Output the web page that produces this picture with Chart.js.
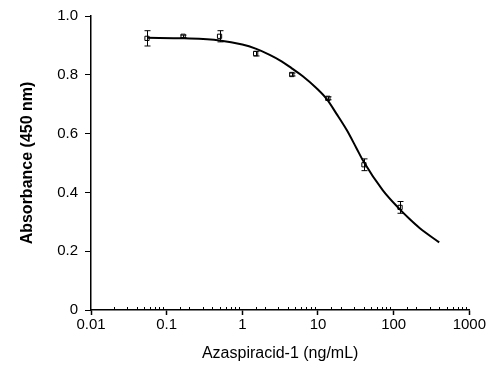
<!DOCTYPE html>
<html>
<head>
<meta charset="utf-8">
<script src="https://cdn.jsdelivr.net/npm/chart.js@4"></script>
<style>
  html, body { margin: 0; padding: 0; background: #fff; }
  #wrap { width: 487px; height: 366px; }
</style>
</head>
<body>
<div id="wrap"><canvas id="myChart" width="487" height="366"></canvas></div>
<script>
// measured points (concentration in ng/mL, absorbance, error)
var concentrations = [0.055, 0.165, 0.5, 1.5, 4.5, 13.5, 40.5, 121.5];
var absorbance = [0.924, 0.931, 0.931, 0.872, 0.801, 0.72, 0.494, 0.349];
var errors = [0.026, 0.004, 0.019, 0.008, 0.005, 0.005, 0.02, 0.02];

// fitted curve
var curveX = [0.055, 0.17, 0.5, 1, 1.5, 2.3, 3.3, 4.5, 6.3, 9.5, 13, 17.5, 24, 32, 40, 72, 120, 160, 220, 400];
var curveY = [0.926, 0.924, 0.917, 0.903, 0.889, 0.868, 0.846, 0.822, 0.795, 0.755, 0.718, 0.668, 0.612, 0.552, 0.505, 0.407, 0.343, 0.311, 0.279, 0.23];

var xTickLabels = [0.01, 0.1, 1, 10, 100, 1000];
var yTickLabels = [0, 0.2, 0.4, 0.6, 0.8, 1.0];

var fontFamily = '"Liberation Sans", Arial, sans-serif';

function isDecade(v) {
    for (var i = 0; i < xTickLabels.length; i++) {
        if (Math.abs(v - xTickLabels[i]) < xTickLabels[i] * 1e-6) return true;
    }
    return false;
}

// error bars drawn through the chart scales
var errorBars = {
    id: 'errorBars',
    afterDatasetsDraw: function(chart) {
        var ctx = chart.ctx;
        var xs = chart.scales.x, ys = chart.scales.y;
        ctx.save();
        ctx.strokeStyle = '#000';
        ctx.lineWidth = 1;
        for (var i = 0; i < concentrations.length; i++) {
            var px = Math.round(xs.getPixelForValue(concentrations[i])) + 0.5;
            var top = ys.getPixelForValue(absorbance[i] + errors[i]);
            var bot = ys.getPixelForValue(absorbance[i] - errors[i]);
            ctx.beginPath();
            ctx.moveTo(px, top); ctx.lineTo(px, bot);
            ctx.moveTo(px - 3, top); ctx.lineTo(px + 3, top);
            ctx.moveTo(px - 3, bot); ctx.lineTo(px + 3, bot);
            ctx.stroke();
        }
        ctx.restore();
    }
};

// minor ticks on the log axis
var minorTicks = {
    id: 'minorTicks',
    afterDraw: function(chart) {
        var ctx = chart.ctx;
        var xs = chart.scales.x;
        var y0 = xs.top;
        ctx.save();
        ctx.strokeStyle = '#000';
        ctx.lineWidth = 1;
        xs.ticks.forEach(function(t) {
            if (isDecade(t.value)) return;
            var px = Math.round(xs.getPixelForValue(t.value)) + 0.5;
            ctx.beginPath();
            ctx.moveTo(px, y0);
            ctx.lineTo(px, y0 - 3);
            ctx.stroke();
        });
        ctx.restore();
    }
};

var ctx = document.getElementById('myChart').getContext('2d');
var myChart = new Chart(ctx, {
    type: 'scatter',
    data: {
        datasets: [{
            label: 'Fit',
            data: curveX.map(function(x, i) { return { x: x, y: curveY[i] }; }),
            showLine: true,
            borderColor: '#000',
            borderWidth: 2,
            pointRadius: 0,
            cubicInterpolationMode: 'monotone',
            fill: false
        }, {
            label: 'Azaspiracid-1',
            data: concentrations.map(function(x, i) { return { x: x, y: absorbance[i] }; }),
            showLine: false,
            pointStyle: 'rect',
            pointRadius: 3,
            pointBorderWidth: 1,
            pointBorderColor: '#000',
            pointBackgroundColor: 'rgba(255,255,255,0)'
        }]
    },
    options: {
        responsive: false,
        animation: false,
        layout: { padding: { top: 16, right: 17, left: 0, bottom: 0 } },
        plugins: {
            legend: { display: false },
            tooltip: { enabled: false }
        },
        scales: {
            x: {
                type: 'logarithmic',
                min: 0.01,
                max: 1000,
                afterFit: function(scale) { scale.height = 56; },
                border: { display: true, color: '#000', width: 1.5 },
                grid: {
                    display: true,
                    drawOnChartArea: false,
                    drawTicks: true,
                    tickLength: 5,
                    tickColor: function(c) { return isDecade(c.tick.value) ? '#000' : 'rgba(0,0,0,0)'; },
                    tickWidth: 1.5
                },
                ticks: {
                    autoSkip: false,
                    maxRotation: 0,
                    color: '#000',
                    padding: 1,
                    font: { family: fontFamily, size: 15 },
                    callback: function(v) { return isDecade(v) ? String(v) : ''; }
                },
                title: {
                    display: true,
                    text: 'Azaspiracid-1 (ng/mL)',
                    color: '#000',
                    padding: { top: 0, bottom: 3 },
                    font: { family: fontFamily, size: 16 }
                }
            },
            y: {
                min: 0,
                max: 1.0,
                afterFit: function(scale) { scale.width = 91; },
                afterBuildTicks: function(scale) {
                    scale.ticks = yTickLabels.map(function(v) { return { value: v }; });
                },
                border: { display: true, color: '#000', width: 1.5 },
                grid: {
                    display: true,
                    drawOnChartArea: false,
                    drawTicks: true,
                    tickLength: 6,
                    tickColor: '#000',
                    tickWidth: 1
                },
                ticks: {
                    color: '#000',
                    padding: 7,
                    font: { family: fontFamily, size: 15 },
                    callback: function(v) { return v === 0 ? '0' : v.toFixed(1); }
                },
                title: {
                    display: true,
                    text: 'Absorbance (450 nm)',
                    color: '#000',
                    padding: { top: 18, bottom: 0 },
                    font: { family: fontFamily, size: 16, weight: 'bold' }
                }
            }
        }
    },
    plugins: [errorBars, minorTicks]
});
</script>
</body>
</html>
